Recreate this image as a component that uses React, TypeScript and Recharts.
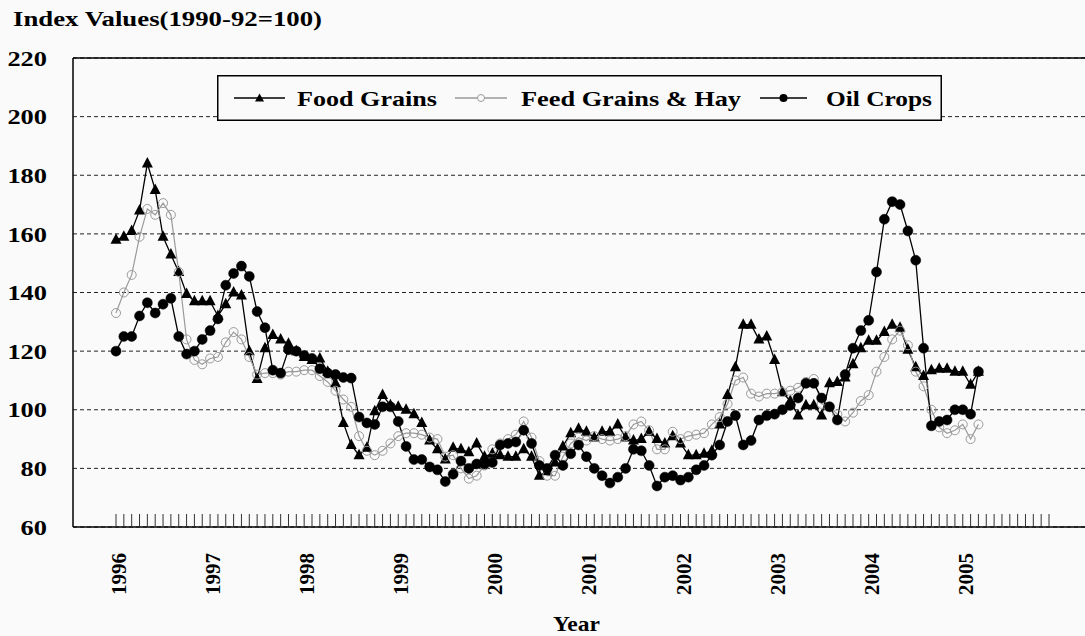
import React from 'react';
import { LineChart, Line, XAxis, YAxis, CartesianGrid, Legend, ReferenceLine } from 'recharts';

const years = ['1996', '1997', '1998', '1999', '2000', '2001', '2002', '2003', '2004', '2005'];
const months = ['01', '02', '03', '04', '05', '06', '07', '08', '09', '10', '11', '12'];

// monthly index values, Jan 1996 .. Mar 2005
const foodGrains = [
  158, 159, 161, 168, 184, 175, 159, 153, 147, 139.5, 137, 137,
  137, 132, 136, 140, 139, 120, 110.5, 121, 125.5, 124, 122.5, 120,
  118, 117, 117.5, 113, 109, 95.5, 88, 84.5, 87, 99.5, 105, 101.5,
  101, 100, 98.5, 95.5, 89.5, 86.5, 83, 87, 86.5, 85.5, 88.5, 84,
  85, 84.5, 84, 84, 86.5, 84, 77.5, 79, 82, 87.5, 92, 93.5,
  92.5, 90.5, 92.5, 92.5, 95, 90.5, 89.5, 90, 92.5, 90, 88.5, 91,
  88.5, 84.5, 84.5, 85, 86, 95, 105, 114.5, 129, 129, 124, 125,
  117, 106, 103, 98, 101.5, 101.5, 98, 109, 109.5, 111, 115.5, 121,
  123.5, 123.5, 126.5, 129, 128, 120.5, 114.5, 111.5, 113.5, 114, 114, 113,
  113, 108.5, 113,
];
const feedGrains = [
  133, 140, 146, 159, 168.5, 166.5, 170.5, 166.5, 147, 124, 117, 115.5,
  117.5, 118, 123, 126.5, 124, 118, 112, 112.5, 112.5, 112, 113, 113,
  113.5, 113.5, 111.5, 109.5, 106.5, 103.5, 101, 91, 86, 84.5, 86, 88.5,
  91, 92, 92, 91.5, 90.5, 90, 84, 84.5, 80, 76.5, 77.5, 81,
  86.5, 88.5, 90, 91.5, 96, 90.5, 82.5, 77.5, 77.5, 84, 88.5, 90.5,
  89.5, 91, 90, 89.5, 90, 91, 95, 96, 93, 86.5, 86.5, 92.5,
  90, 91, 91.5, 92, 95, 97.5, 102, 110, 111, 105.5, 104.5, 105.5,
  105.5, 106, 106.5, 107.5, 109.5, 110.5, 102, 101, 98.5, 96, 99, 103,
  105, 113, 118, 124, 127, 122, 113, 108, 100, 94, 92, 93,
  95, 90, 95,
];
const oilCrops = [
  120, 125, 125, 132, 136.5, 133, 136, 138, 125, 119, 120, 124,
  127, 131, 142.5, 146.5, 149, 145.5, 133.5, 128, 113.5, 112.5, 120.5, 120,
  118.5, 117.5, 114, 112.5, 112, 111, 110.8, 97.5, 95.5, 95, 101, 101,
  96, 87.5, 83, 83, 80.5, 79.5, 75.5, 78, 82.5, 80, 81.5, 81.5,
  82, 88, 88.5, 89, 93, 88.5, 81, 80, 84.5, 81, 85, 88,
  84, 80, 77.5, 75, 77, 80, 86.5, 86, 81, 74, 77, 77.5,
  76, 77, 79.5, 81, 84.5, 88, 96, 98, 88, 89.5, 96.5, 98,
  98.5, 100, 101.5, 104, 109, 109, 104, 101, 96.5, 112, 121, 127,
  130.5, 147, 165, 171, 170, 161, 151, 121, 94.5, 96, 96.5, 100,
  100, 98.5, 113,
];
const yTicks = [60, 80, 100, 120, 140, 160, 180, 200, 220];

const categories = years.flatMap((y) => months.map((m) => `${y}-${m}`));
const data = categories.map((month, i) => ({
  month,
  food: foodGrains[i],
  feed: feedGrains[i],
  oil: oilCrops[i],
}));

const FONT = '"Liberation Serif", "Times New Roman", serif';
const GRAY = '#9a9a9a';

const TriangleDot = (props: any) => {
  const { cx, cy, index } = props;
  if (cx == null || cy == null) return <g key={index} />;
  return <polygon key={index} points={`${cx},${cy - 6.5} ${cx - 5.5},${cy + 4} ${cx + 5.5},${cy + 4}`} fill="#000" />;
};

const MonthTick = (props: any) => {
  const { x, y, payload } = props;
  const [year, month] = String(payload.value).split('-');
  return (
    <g>
      <line x1={x} x2={x} y1={y - 13} y2={y} stroke="#333" strokeWidth={1} />
      {month === '01' && (
        <text
          transform={`translate(${x + 3},${y + 26}) rotate(-90)`}
          textAnchor="end"
          dominantBaseline="central"
          fontSize={21}
          fontWeight="bold"
          fontFamily={FONT}
          fill="#000"
        >
          {year}
        </text>
      )}
    </g>
  );
};

const ValueTick = (props: any) => {
  const { x, y, payload } = props;
  return (
    <g transform={`translate(${x},${y})`}>
      <text transform="scale(1.2,1)" textAnchor="end" dy="0.35em" fontSize={22} fontWeight="bold" fontFamily={FONT} fill="#000">
        {payload.value}
      </text>
    </g>
  );
};

const renderTitle = () => (
  <text x={13} y={26} fontSize={20} fontWeight="bold" fontFamily={FONT} fill="#000" textLength={309} lengthAdjust="spacingAndGlyphs">
    Index Values(1990-92=100)
  </text>
);

const renderYear = () => (
  <text x={553} y={631} fontSize={22} fontWeight="bold" fontFamily={FONT} fill="#000" textLength={47} lengthAdjust="spacingAndGlyphs">
    Year
  </text>
);

// legend slots by series: line start, line end, text x, text width
const legendOrder = ['food', 'feed', 'oil'];
const legendSlots: Record<string, { x1: number; x2: number; tx: number; tw: number }> = {
  food: { x1: 17, x2: 68, tx: 80, tw: 140 },
  feed: { x1: 238, x2: 290, tx: 304, tw: 220 },
  oil: { x1: 543, x2: 590, tx: 609, tw: 106 },
};

const renderLegend = (props: any) => {
  const payload = [...(props.payload || [])].sort(
    (a: any, b: any) => legendOrder.indexOf(a.dataKey) - legendOrder.indexOf(b.dataKey)
  );
  return (
    <svg width={725} height={46} style={{ display: 'block' }}>
      <rect x={0.75} y={0.75} width={723.5} height={44.5} fill="#fafafa" stroke="#000" strokeWidth={1.5} />
      {payload.map((entry: any) => {
        const key = entry.dataKey;
        const s = legendSlots[key];
        if (!s) return null;
        const mx = (s.x1 + s.x2) / 2;
        const col = key === 'feed' ? GRAY : '#000';
        return (
          <g key={key}>
            <line x1={s.x1} x2={s.x2} y1={23} y2={23} stroke={col} strokeWidth={1.3} />
            {key === 'food' && <polygon points={`${mx},${18.5} ${mx - 4.5},${26.5} ${mx + 4.5},${26.5}`} fill="#000" />}
            {key === 'feed' && <circle cx={mx} cy={23} r={3.5} fill="#fafafa" stroke={GRAY} strokeWidth={1} />}
            {key === 'oil' && <circle cx={mx} cy={23} r={4} fill="#000" />}
            <text x={s.tx} y={31} fontSize={22} fontWeight="bold" fontFamily={FONT} fill="#000" textLength={s.tw} lengthAdjust="spacingAndGlyphs">
              {entry.value}
            </text>
          </g>
        );
      })}
    </svg>
  );
};

export default function App() {
  return (
    <div style={{ position: 'absolute', left: 0, top: 0, width: 1085, height: 636, overflow: 'hidden', background: '#fafafa' }}>
      <LineChart width={1110} height={636} data={data} margin={{ top: 58, right: 10, bottom: 0, left: 0 }} style={{ fontFamily: FONT }}>
        <CartesianGrid vertical={false} stroke="#222" strokeDasharray="4 3" />
        <XAxis
          dataKey="month"
          interval={0}
          height={109}
          tickLine={false}
          tickSize={0}
          tickMargin={0}
          padding={{ left: 43, right: 51 }}
          axisLine={{ stroke: '#000', strokeWidth: 1.5 }}
          tick={(p: any) => <MonthTick {...p} />}
          label={renderYear}
        />
        <YAxis
          domain={[60, 220]}
          ticks={yTicks}
          interval={0}
          allowDataOverflow
          width={73}
          tickLine={false}
          tickSize={0}
          tickMargin={26}
          axisLine={{ stroke: '#000', strokeWidth: 1.5 }}
          tick={(p: any) => <ValueTick {...p} />}
          label={renderTitle}
        />
        <ReferenceLine y={220} stroke="#000" strokeWidth={1.5} />
        <Legend
          layout="horizontal"
          verticalAlign="middle"
          align="center"
          wrapperStyle={{ position: 'absolute', left: 217, top: 75, width: 725, height: 46 }}
          content={renderLegend}
        />
        <Line
          dataKey="food"
          name="Food Grains"
          stroke="#000"
          strokeWidth={1.3}
          dot={(p: any) => <TriangleDot {...p} key={p.index} />}
          activeDot={false}
          isAnimationActive={false}
        />
        <Line
          dataKey="feed"
          name="Feed Grains & Hay"
          stroke={GRAY}
          strokeWidth={1.2}
          dot={{ r: 4.5, stroke: GRAY, strokeWidth: 1, fill: 'none' }}
          activeDot={false}
          isAnimationActive={false}
        />
        <Line
          dataKey="oil"
          name="Oil Crops"
          stroke="#000"
          strokeWidth={1.3}
          dot={{ r: 5, stroke: '#000', strokeWidth: 0.5, fill: '#000' }}
          activeDot={false}
          isAnimationActive={false}
        />
      </LineChart>
    </div>
  );
}
